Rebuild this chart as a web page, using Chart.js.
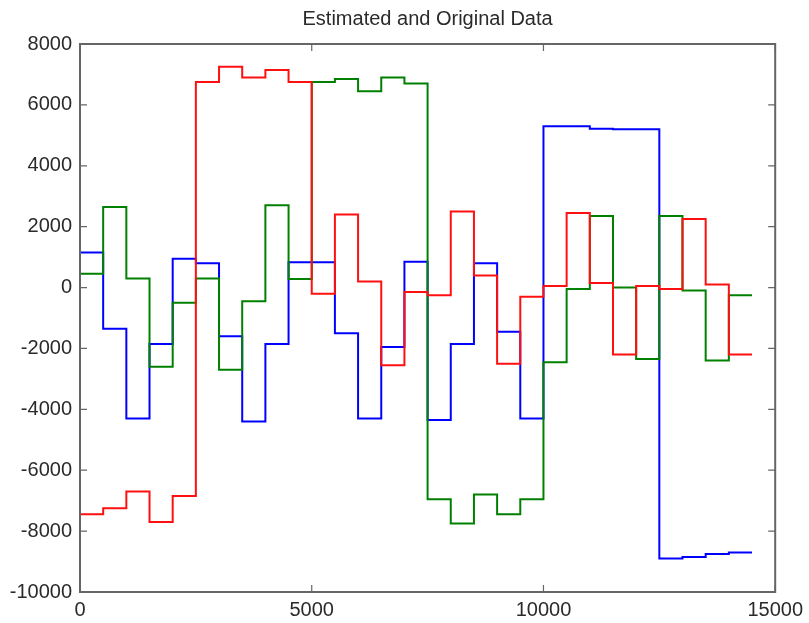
<!DOCTYPE html>
<html>
<head>
<meta charset="utf-8">
<title>Estimated and Original Data</title>
<script src="https://cdn.jsdelivr.net/npm/chart.js@4/dist/chart.umd.min.js"></script>
<style>
    body { margin: 0; background: #fff; }
    canvas { display: block; }
</style>
</head>
<body>
<canvas id="estChart" width="809" height="623"></canvas>
<script>
// step start times (last entry is where the record ends)
const sampleTimes = [0, 500, 1000, 1500, 2000, 2500, 3000, 3500, 4000, 4500,
    5000, 5500, 6000, 6500, 7000, 7500, 8000, 8500, 9000, 9500,
    10000, 10500, 11000, 11500, 12000, 12500, 13000, 13500, 14000, 14500];

const blueVals = [1150, -1350, -4300, -1850, 950, 800, -1600, -4400, -1850, 830,
    830, -1500, -4300, -1950, 850, -4350, -1850, 800, -1450, -4300,
    5300, 5300, 5220, 5200, 5200, -8900, -8850, -8750, -8700];

const greenVals = [450, 2650, 300, -2600, -500, 300, -2700, -450, 2700, 280,
    6750, 6850, 6450, 6900, 6700, -6950, -7750, -6800, -7450, -6950,
    -2450, -50, 2350, 0, -2350, 2350, -100, -2400, -250];

const redVals = [-7450, -7250, -6700, -7700, -6850, 6750, 7250, 6900, 7150, 6750,
    -200, 2400, 200, -2550, -150, -250, 2500, 400, -2500, -300,
    50, 2450, 150, -2200, 50, -50, 2250, 100, -2200];

const xTicks = [0, 5000, 10000, 15000];
const yTicks = [-10000, -8000, -6000, -4000, -2000, 0, 2000, 4000, 6000, 8000];

const FONT = "'Liberation Sans', Arial, Helvetica, sans-serif";

// each value holds until the next sample time, so repeat the last one at the end
function toSteps(vals) {
    return sampleTimes.map((t, i) => ({ x: t, y: vals[Math.min(i, vals.length - 1)] }));
}

// matlab style box with inward ticks
const boxPlugin = {
    id: "boxPlugin",
    afterDraw(chart) {
        const { ctx, chartArea: a, scales } = chart;
        const len = 7;
        ctx.save();
        ctx.strokeStyle = "#666";
        ctx.lineWidth = 2;
        ctx.strokeRect(a.left, a.top, a.right - a.left, a.bottom - a.top);
        ctx.lineWidth = 1.2;
        ctx.beginPath();
        xTicks.forEach(v => {
            const px = scales.x.getPixelForValue(v);
            ctx.moveTo(px, a.bottom); ctx.lineTo(px, a.bottom - len);
            ctx.moveTo(px, a.top); ctx.lineTo(px, a.top + len);
        });
        yTicks.forEach(v => {
            const py = scales.y.getPixelForValue(v);
            ctx.moveTo(a.left, py); ctx.lineTo(a.left + len, py);
            ctx.moveTo(a.right, py); ctx.lineTo(a.right - len, py);
        });
        ctx.stroke();
        ctx.restore();
    }
};

const lineStyle = { borderWidth: 2, pointRadius: 0, stepped: "before", fill: false, tension: 0 };

new Chart(document.getElementById("estChart"), {
    type: "line",
    data: {
        datasets: [
            { label: "s1", data: toSteps(blueVals), borderColor: "#0000ff", order: 3, ...lineStyle },
            { label: "s2", data: toSteps(greenVals), borderColor: "#008000", order: 2, ...lineStyle },
            { label: "s3", data: toSteps(redVals), borderColor: "#ff1010", order: 1, ...lineStyle }
        ]
    },
    options: {
        responsive: false,
        animation: false,
        events: [],
        layout: { padding: { left: 0, right: 4, top: 0, bottom: 0 } },
        plugins: {
            legend: { display: false },
            tooltip: { enabled: false },
            title: {
                display: true,
                fullSize: false,
                text: "Estimated and Original Data",
                color: "#2a2a2a",
                font: { family: FONT, size: 20, weight: "normal" },
                padding: { top: 7, bottom: 13 }
            }
        },
        scales: {
            x: {
                type: "linear",
                min: 0,
                max: 15000,
                grid: { display: false, drawTicks: false },
                border: { display: false },
                afterBuildTicks: s => { s.ticks = xTicks.map(v => ({ value: v })); },
                afterFit: s => { s.height = 31; },
                ticks: {
                    color: "#2a2a2a",
                    font: { family: FONT, size: 20 },
                    padding: 6,
                    maxRotation: 0,
                    callback: v => String(v)
                }
            },
            y: {
                type: "linear",
                min: -10000,
                max: 8000,
                grid: { display: false, drawTicks: false },
                border: { display: false },
                afterBuildTicks: s => { s.ticks = yTicks.map(v => ({ value: v })); },
                afterFit: s => { s.width = 80; },
                ticks: {
                    color: "#2a2a2a",
                    font: { family: FONT, size: 20 },
                    padding: 8,
                    callback: v => String(v)
                }
            }
        }
    },
    plugins: [boxPlugin]
});
</script>
</body>
</html>
